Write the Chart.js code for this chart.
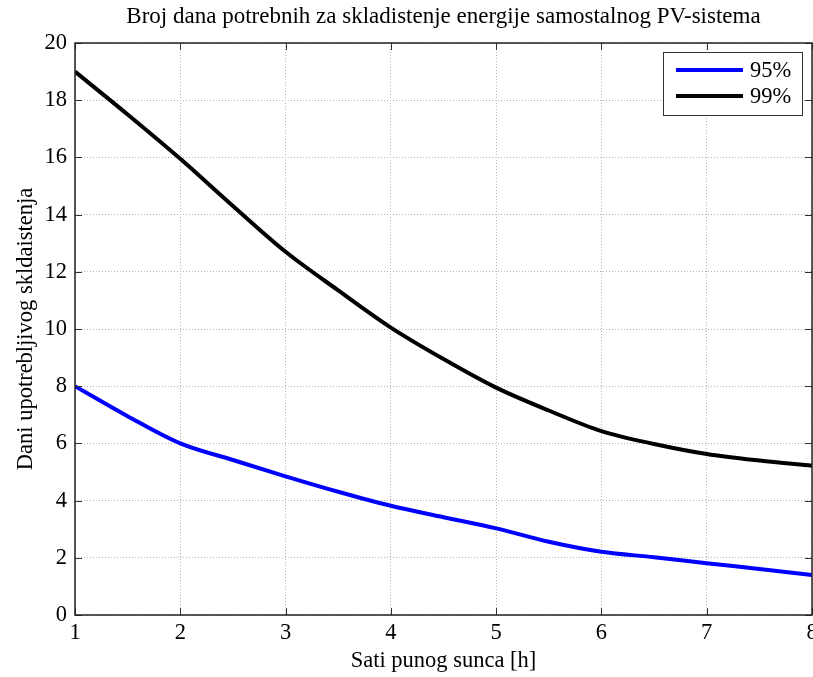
<!DOCTYPE html>
<html>
<head>
<meta charset="utf-8">
<script src="https://cdn.jsdelivr.net/npm/chart.js@4.4.1/dist/chart.umd.min.js"></script>
<style>
  html, body { margin: 0; padding: 0; background: #fff; overflow: hidden; }
  #wrap { width: 813px; height: 677px; }
</style>
</head>
<body>
<div id="wrap"><canvas id="myChart" width="813" height="677"></canvas></div>
<script>
// hours of full sun
const hours = [1, 1.5, 2, 2.5, 3, 3.5, 4, 4.5, 5, 5.5, 6, 6.5, 7, 7.5, 8]
// days of storage
const days95 = [8.0, 6.95, 6.0, 5.42, 4.85, 4.31, 3.82, 3.42, 3.03, 2.56, 2.21, 2.02, 1.81, 1.61, 1.40]
const days99 = [19.0, 17.5, 15.95, 14.3, 12.7, 11.35, 10.05, 8.95, 7.95, 7.15, 6.43, 5.98, 5.63, 5.4, 5.22]
const seriesLabels = ['95%', '99%']
const seriesColors = ['#0000ff', '#000000']
const chartTitle = 'Broj dana potrebnih za skladistenje energije samostalnog PV-sistema'

const serif = "'Liberation Serif', 'Times New Roman', serif"
const fontSize = 22.5

const toPoints = (ys) => hours.map((h, i) => ({ x: h, y: ys[i] }))

// title centered over the plot area (matlab style), not over the canvas
const titlePlugin = {
  id: 'titlePlugin',
  afterDraw(chart) {
    const { ctx, chartArea: a } = chart
    ctx.save()
    ctx.font = '23px ' + serif
    ctx.fillStyle = '#000'
    ctx.textAlign = 'center'
    ctx.textBaseline = 'middle'
    ctx.fillText(chartTitle, (a.left + a.right) / 2, 17)
    ctx.restore()
  },
}

// box round the plot + inward ticks, like matlab
const boxPlugin = {
  id: 'boxPlugin',
  afterDatasetsDraw(chart) {
    const { ctx, chartArea: a, scales } = chart
    ctx.save()
    ctx.strokeStyle = '#333'
    ctx.lineWidth = 1
    const len = 7
    scales.x.ticks.forEach((t) => {
      const px = Math.round(scales.x.getPixelForValue(t.value)) + 0.5
      ctx.beginPath()
      ctx.moveTo(px, a.bottom); ctx.lineTo(px, a.bottom - len)
      ctx.moveTo(px, a.top); ctx.lineTo(px, a.top + len)
      ctx.stroke()
    })
    scales.y.ticks.forEach((t) => {
      const py = Math.round(scales.y.getPixelForValue(t.value)) + 0.5
      ctx.beginPath()
      ctx.moveTo(a.left, py); ctx.lineTo(a.left + len, py)
      ctx.moveTo(a.right, py); ctx.lineTo(a.right - len, py)
      ctx.stroke()
    })
    ctx.strokeStyle = '#222'
    ctx.lineWidth = 1.5
    ctx.strokeRect(a.left, a.top, a.right - a.left, a.bottom - a.top)
    ctx.restore()
  },
}

const legendPlugin = {
  id: 'legendPlugin',
  afterDraw(chart) {
    const { ctx, chartArea: a } = chart
    const w = 139
    const h = 63
    const x0 = a.right - 10 - w
    const y0 = a.top + 9
    ctx.save()
    ctx.fillStyle = '#fff'
    ctx.fillRect(x0, y0, w, h)
    ctx.strokeStyle = '#333'
    ctx.lineWidth = 1
    ctx.strokeRect(x0 + 0.5, y0 + 0.5, w, h)
    ctx.font = fontSize + 'px ' + serif
    ctx.textBaseline = 'middle'
    chart.data.datasets.forEach((ds, i) => {
      const yy = y0 + 18 + i * 26
      ctx.strokeStyle = ds.borderColor
      ctx.lineWidth = 4
      ctx.beginPath()
      ctx.moveTo(x0 + 13, yy); ctx.lineTo(x0 + 80, yy)
      ctx.stroke()
      ctx.fillStyle = '#000'
      ctx.fillText(ds.label, x0 + 87, yy + 1)
    })
    ctx.restore()
  },
}

const gridOpts = { color: '#b4b4b4', drawTicks: false, lineWidth: 1 }
const borderOpts = { display: false, dash: [1, 2] }

const ctx = document.getElementById('myChart').getContext('2d')
new Chart(ctx, {
  type: 'line',
  data: {
    datasets: [
      { label: seriesLabels[0], data: toPoints(days95), borderColor: seriesColors[0] },
      { label: seriesLabels[1], data: toPoints(days99), borderColor: seriesColors[1] },
    ],
  },
  options: {
    responsive: false,
    animation: false,
    devicePixelRatio: 1,
    layout: { padding: { left: 0, right: 1, top: 43, bottom: 0 } },
    elements: {
      point: { radius: 0 },
      line: { borderWidth: 4, cubicInterpolationMode: 'monotone', fill: false },
    },
    plugins: {
      legend: { display: false },
      tooltip: { enabled: false },
      title: { display: false },
    },
    scales: {
      x: {
        type: 'linear',
        min: 1,
        max: 8,
        ticks: { stepSize: 1, color: '#000', padding: 5, maxRotation: 0, font: { family: serif, size: fontSize } },
        grid: gridOpts,
        border: borderOpts,
        title: {
          display: true,
          text: 'Sati punog sunca [h]',
          color: '#000',
          font: { family: serif, size: fontSize, lineHeight: 1.2 },
          padding: { top: 0, bottom: 2 },
        },
        afterFit(scale) {
          scale.paddingLeft = 0
          scale.paddingRight = 0
          scale.height = 62
        },
      },
      y: {
        min: 0,
        max: 20,
        ticks: { stepSize: 2, color: '#000', padding: 8, font: { family: serif, size: fontSize } },
        grid: gridOpts,
        border: borderOpts,
        title: {
          display: true,
          text: 'Dani upotrebljivog skldaistenja',
          color: '#000',
          font: { family: serif, size: fontSize, lineHeight: 1.2 },
          padding: { top: 13, bottom: 0 },
        },
        afterFit(scale) {
          scale.paddingTop = 0
          scale.paddingBottom = 0
          scale.width = 75
        },
      },
    },
  },
  plugins: [boxPlugin, legendPlugin, titlePlugin],
})
</script>
</body>
</html>
